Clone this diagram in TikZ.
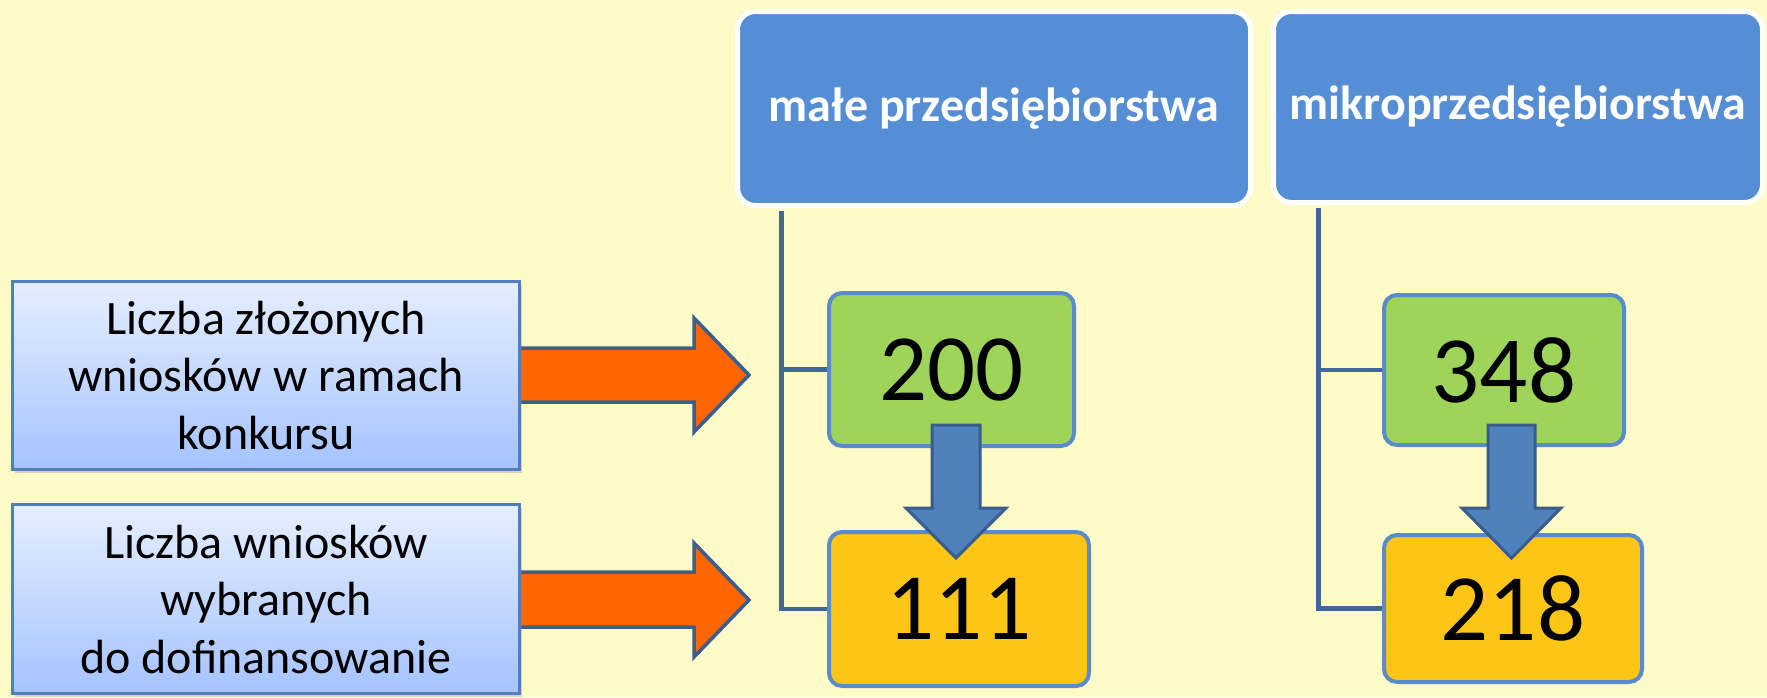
\documentclass[tikz,border=0pt]{standalone}
\usepackage{fontspec}
\setmainfont{Carlito}
\usetikzlibrary{calc,shadows}
\definecolor{bg}{HTML}{FFFBC8}
\definecolor{hdrblue}{HTML}{558ED5}
\definecolor{greenfill}{HTML}{9ED45A}
\definecolor{orangefill}{HTML}{FDC515}
\definecolor{boxborder}{HTML}{5A8CCB}
\definecolor{treeline}{HTML}{41679A}
\definecolor{lbtop}{HTML}{E5EEFF}
\definecolor{lbbot}{HTML}{A5C3FF}
\definecolor{lbborder}{HTML}{4F7FC2}
\definecolor{arrorange}{HTML}{FF6600}
\definecolor{arrborder}{HTML}{3A5F8F}
\definecolor{downfill}{HTML}{4F81BD}
\definecolor{downborder}{HTML}{385D8A}
\tikzset{
  hdr/.style={rounded corners=18pt, fill=hdrblue, draw=white, line width=5pt,
    text=white, inner sep=0pt, font=\bfseries\fontsize{48}{54}\selectfont},
  lbox/.style={top color=lbtop, bottom color=lbbot, draw=lbborder, line width=3pt,
    inner sep=0pt, align=center, font=\fontsize{48}{57.5}\selectfont,
    drop shadow={shadow xshift=2pt, shadow yshift=-3pt, opacity=0.3}},
  numbox/.style={rounded corners=13pt, draw=boxborder, line width=4pt, inner sep=0pt,
    font=\fontsize{95}{100}\selectfont},
  gbox/.style={numbox, fill=greenfill},
  obox/.style={numbox, fill=orangefill},
  tree/.style={draw=treeline, line width=4.5pt},
  sidearrow/.style={fill=arrorange, draw=arrborder, line width=3.5pt, line join=miter},
  downarrow/.style={fill=downfill, draw=downborder, line width=3pt, line join=miter}
}
\begin{document}
\begin{tikzpicture}[x=1pt,y=-1pt]
\fill[bg] (0,0) rectangle (1767,697);
\useasboundingbox (0,0) rectangle (1767,697);

% side arrows (behind boxes)
\draw[sidearrow] (515,348) -- (694,348) -- (694,318) -- (749,375) -- (694,432) -- (694,402) -- (515,402) -- cycle;
\draw[sidearrow] (515,572) -- (694,572) -- (694,543) -- (749,600) -- (694,657) -- (694,627) -- (515,627) -- cycle;

% left boxes
\node[lbox, minimum width=507pt, minimum height=188pt] (l1) at (266,375.5) {Liczba złożonych\\wniosków w ramach\\konkursu};
\node[lbox, minimum width=507pt, minimum height=189pt] (l2) at (266,599) {Liczba wniosków\\wybranych\\do dofinansowanie};

% headers
\node[hdr, minimum width=513pt, minimum height=194pt] (h1) at (994,108.5) {małe przedsiębiorstwa};
\node[hdr, minimum width=489pt, minimum height=191pt] (h2) at (1518,107) {mikroprzedsiębiorstwa};

% number boxes
\node[gbox, minimum width=245pt, minimum height=153pt] (g1) at (951.5,369.5) {200};
\node[obox, minimum width=260pt, minimum height=154pt] (o1) at (959,609) {111};
\node[gbox, minimum width=240pt, minimum height=150pt] (g2) at (1504,370) {348};
\node[obox, minimum width=258pt, minimum height=147pt] (o2) at (1513,608.5) {218};

% tree lines
\draw[tree] ([xshift=46.5pt,yshift=-2.5pt]h1.south west) |- (g1.west);
\draw[tree] ([xshift=46.5pt,yshift=-2.5pt]h1.south west) |- (o1.west);
\draw[tree] ([xshift=47.5pt,yshift=-2.5pt]h2.south west) |- (g2.west);
\draw[tree] ([xshift=47.5pt,yshift=-2.5pt]h2.south west) |- (o2.west);

% down arrows
\draw[downarrow] (932,425) -- (980,425) -- (980,508) -- (1006,508) -- (956,558) -- (906,508) -- (932,508) -- cycle;
\draw[downarrow] (1488,425) -- (1535,425) -- (1535,508) -- (1561,508) -- (1511.5,558) -- (1462,508) -- (1488,508) -- cycle;
\end{tikzpicture}
\end{document}
